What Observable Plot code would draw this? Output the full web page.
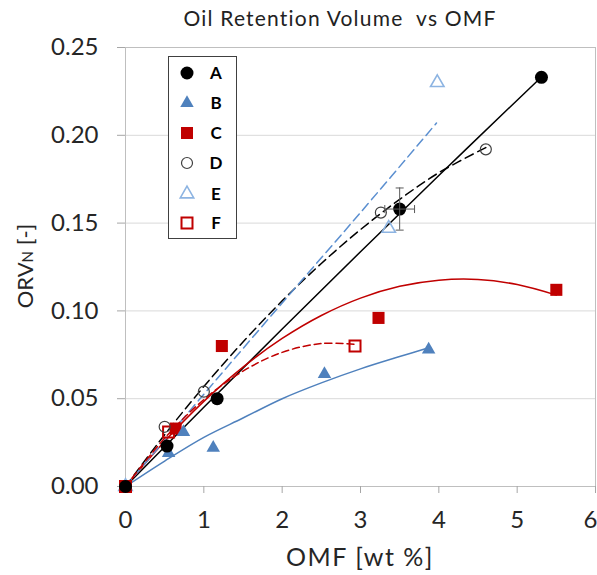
<!DOCTYPE html>
<html><head><meta charset="utf-8">
<script src="https://cdn.jsdelivr.net/npm/d3@7"></script>
<script src="https://cdn.jsdelivr.net/npm/@observablehq/plot@0.6"></script>
<style>
body{margin:0;background:#fff;font-family:Lato,"Open Sans",sans-serif;}
</style></head><body>
<div id="chart"></div>
<script>
// ---- data ----
const seriesNames = ["A","B","C","D","E","F"];
const A_x = [0, 0.53, 1.17, 3.50, 5.31];
const A_y = [0, 0.023, 0.050, 0.158, 0.233];
const B_x = [0, 0.55, 0.74, 1.12, 2.54, 3.87];
const B_y = [0, 0.019, 0.031, 0.022, 0.064, 0.078];
const C_x = [0, 0.64, 1.23, 3.23, 5.50];
const C_y = [0, 0.033, 0.080, 0.096, 0.112];
const D_x = [0, 0.50, 1.00, 3.26, 4.60];
const D_y = [0, 0.034, 0.054, 0.156, 0.192];
const E_x = [0, 3.36, 3.98];
const E_y = [0, 0.147, 0.230];
const F_x = [0, 0.55, 2.93];
const F_y = [0, 0.031, 0.080];

// trend lines
const A_fit_x = [0, 1, 2, 3, 4, 5, 5.31];
const A_fit_y = [0, 0.0451, 0.0897, 0.1337, 0.1771, 0.2200, 0.2332];
const B_fit_x = [0, 0.5, 1, 1.5, 2, 2.5, 3, 3.5, 3.87];
const B_fit_y = [0, 0.0145, 0.028, 0.039, 0.050, 0.059, 0.067, 0.074, 0.079];
const C_fit_x = [0, 0.5, 1, 1.5, 2, 2.5, 3, 3.5, 4, 4.5, 5, 5.5];
const C_fit_y = [0, 0.0258, 0.0485, 0.0680, 0.0843, 0.0974, 0.1073, 0.1140, 0.1175, 0.1179, 0.1150, 0.1090];
const D_fit_x = [0, 0.5, 1, 1.5, 2, 2.5, 3, 3.5, 4, 4.6];
const D_fit_y = [0, 0.0295, 0.0569, 0.0823, 0.1057, 0.1270, 0.1463, 0.1635, 0.1787, 0.1930];
const E_fit_x = [0, 1, 2, 3, 3.97];
const E_fit_y = [0, 0.0525, 0.1045, 0.156, 0.207];
const F_fit_x = [0, 0.5, 1, 1.5, 2, 2.5, 2.93];
const F_fit_y = [0, 0.0275, 0.0495, 0.0657, 0.0764, 0.0814, 0.0810];

// error bars on A
const errX = [3.50], errY = [0.158], errDX = [0.19], errDY = [0.012];

const ticksX = [0, 1, 2, 3, 4, 5, 6];
const tickLabelsX = ["0","1","2","3","4","5","6"];
const ticksY = [0, 0.05, 0.10, 0.15, 0.20, 0.25];
const tickLabelsY = ["0.00","0.05","0.10","0.15","0.20","0.25"];

const titleText = "Oil Retention Volume\u00a0\u00a0vs OMF";
const xLabel = "OMF [wt %]";

// ---- styles ----
const blue = "#4f81bd", lightBlue = "#8db4e2", red = "#c00000";
const style = {
  A: {symbol:"circle",   r:6.5, fill:"#000", stroke:"none", sw:0,   line:"#000", dash:null},
  B: {symbol:"triangle", r:5,   fill:blue,   stroke:"none", sw:0,   line:blue,   dash:null},
  C: {symbol:"square",   r:6.8, fill:red,    stroke:"none", sw:0,   line:red,    dash:null},
  D: {symbol:"circle",   r:5.5, fill:"none", stroke:"#404040", sw:1.2, line:"#000", dash:"9,5"},
  E: {symbol:"triangle", r:5,   fill:"none", stroke:lightBlue, sw:1.6, line:"#5b8fd0", dash:"9,5"},
  F: {symbol:"square",   r:6.2, fill:"none", stroke:red, sw:2, line:red, dash:"7,4"}
};
const pts = (xs, ys) => xs.map((x, i) => ({x, y: ys[i]}));
const rawPts = {A:pts(A_x,A_y),B:pts(B_x,B_y),C:pts(C_x,C_y),D:pts(D_x,D_y),E:pts(E_x,E_y),F:pts(F_x,F_y)};
const fits = {A:pts(A_fit_x,A_fit_y),B:pts(B_fit_x,B_fit_y),C:pts(C_fit_x,C_fit_y),D:pts(D_fit_x,D_fit_y),E:pts(E_fit_x,E_fit_y),F:pts(F_fit_x,F_fit_y)};

const hcap = {draw(ctx, size){const r=Math.sqrt(size/Math.PI);ctx.moveTo(-r,0);ctx.lineTo(r,0);}};
const vcap = {draw(ctx, size){const r=Math.sqrt(size/Math.PI);ctx.moveTo(0,-r);ctx.lineTo(0,r);}};
const err = errX.map((x,i)=>({x, y:errY[i], dx:errDX[i], dy:errDY[i]}));

const lineMarks = seriesNames.map(n => Plot.line(fits[n], {x:"x", y:"y", stroke:style[n].line, strokeWidth:1.5, strokeDasharray:style[n].dash, curve:"catmull-rom"}));
const dotMarks = ["C","B","E","F","D","A"].map(n => Plot.dot(rawPts[n], {x:"x", y:"y", symbol:style[n].symbol, r:style[n].r, fill:style[n].fill, stroke:style[n].stroke, strokeWidth:style[n].sw}));

const chart = Plot.plot({
  width: 597, height: 575,
  marginTop: 47, marginLeft: 125, marginRight: 2, marginBottom: 89,
  x: {domain: [0, 6]},
  y: {domain: [0, 0.25]},
  style: {fontFamily: "Lato, 'Open Sans', sans-serif", background: "white", overflow: "visible"},
  marks: [
    Plot.gridY(ticksY.slice(1, -1), {stroke: "#d9d9d9", strokeOpacity: 1}),
    Plot.frame({stroke: "#bfbfbf"}),
    Plot.axisY(ticksY, {tickSize: 8, tickPadding: 19, fontSize: 24, stroke: "#a6a6a6", fill: "#262626", label: null,
      tickFormat: d => tickLabelsY[ticksY.indexOf(d)]}),
    Plot.axisX(ticksX, {tickSize: 7, tickPadding: 17, fontSize: 24, stroke: "#a6a6a6", fill: "#262626", label: null,
      tickFormat: d => tickLabelsX[ticksX.indexOf(d)]}),
    ...lineMarks,
    ...dotMarks,
    Plot.ruleX(err, {x: "x", y1: d => d.y - d.dy, y2: d => d.y + d.dy, stroke: "#595959", strokeWidth: 1}),
    Plot.ruleY(err, {y: "y", x1: d => d.x - d.dx, x2: d => d.x + d.dx, stroke: "#595959", strokeWidth: 1}),
    Plot.dot(err, {x: "x", y: d => d.y - d.dy, symbol: hcap, r: 4, stroke: "#595959", strokeWidth: 1}),
    Plot.dot(err, {x: "x", y: d => d.y + d.dy, symbol: hcap, r: 4, stroke: "#595959", strokeWidth: 1}),
    Plot.dot(err, {x: d => d.x - d.dx, y: "y", symbol: vcap, r: 4, stroke: "#595959", strokeWidth: 1}),
    Plot.dot(err, {x: d => d.x + d.dx, y: "y", symbol: vcap, r: 4, stroke: "#595959", strokeWidth: 1})
  ]
});
document.getElementById("chart").appendChild(chart);

const svg = d3.select(chart);
// keep the last x tick label inside the window
svg.selectAll("text").filter(function(){ return this.textContent === tickLabelsX[tickLabelsX.length-1]; })
  .attr("dx", -5);

// ---- title, axis titles & legend ----
svg.append("text").attr("x", 340).attr("y", 19).attr("dy", "0.35em").attr("text-anchor", "middle")
  .attr("font-size", 21).attr("letter-spacing", 1.2).attr("fill", "#222").attr("font-family", "Lato, sans-serif")
  .text(titleText);
svg.append("text").attr("x", 360).attr("y", 566).attr("text-anchor", "middle")
  .attr("font-size", 25).attr("letter-spacing", 1.5).attr("fill", "#262626").attr("font-family", "Lato, sans-serif").text(xLabel);
const yl = svg.append("text").attr("transform", "translate(33,266) rotate(-90)").attr("text-anchor", "middle")
  .attr("font-size", 22).attr("fill", "#262626").attr("font-family", "Lato, sans-serif");
yl.append("tspan").text("ORV");
yl.append("tspan").attr("font-size", 15).text("N");
yl.append("tspan").text(" [-]");

const lg = svg.append("g");
lg.append("rect").attr("x", 168.5).attr("y", 56.5).attr("width", 68).attr("height", 182)
  .attr("fill", "white").attr("stroke", "#404040").attr("stroke-width", 1);
const rowsY = [73, 103, 133, 163, 194, 223];
const symMap = {circle: d3.symbolCircle, triangle: d3.symbolTriangle, square: d3.symbolSquare};
seriesNames.forEach((n, i) => {
  const s = style[n];
  lg.append("path").attr("transform", `translate(187,${rowsY[i]})`)
    .attr("d", d3.symbol(symMap[s.symbol], s.r * s.r * Math.PI)())
    .attr("fill", s.fill).attr("stroke", s.stroke).attr("stroke-width", s.sw);
  lg.append("text").attr("x", 216).attr("y", rowsY[i]).attr("dy", "0.35em").attr("text-anchor", "middle")
    .attr("font-size", 17).attr("font-weight", "bold").attr("fill", "#000").attr("font-family", "Lato, sans-serif").text(n);
});
</script>
</body></html>
